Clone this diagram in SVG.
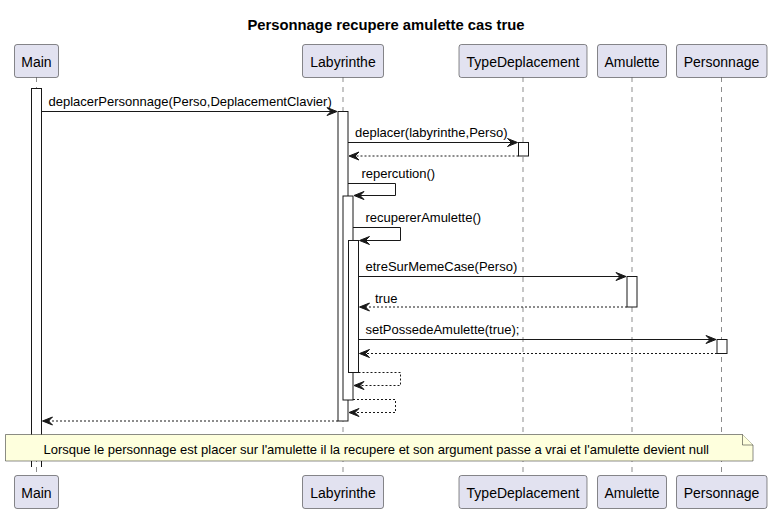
<svg xmlns="http://www.w3.org/2000/svg" width="772" height="513" viewBox="0 0 772 513">
<style>
text{font-family:"Liberation Sans",Arial,sans-serif;fill:#000}
.title{font-size:14.8px;font-weight:bold}
.pt{font-size:14px}
.msg{font-size:13px}
.box{fill:#E2E2F0;stroke:#181818;stroke-width:0.5}
.life{stroke:#181818;stroke-width:0.5;stroke-dasharray:5,5;fill:none}
.act{fill:#FFFFFF;stroke:#181818;stroke-width:1}
.ln{stroke:#181818;stroke-width:1;fill:none}
.dl{stroke:#181818;stroke-width:1;fill:none;stroke-dasharray:2,2}
.ah{fill:#181818;stroke:#181818;stroke-width:1}
.note{fill:#FEFFDD;stroke:#181818;stroke-width:0.5}
</style>
<rect width="772" height="513" fill="#FFFFFF"/>
<text class="title" x="386" y="30" text-anchor="middle">Personnage recupere amulette cas true</text>

<g id="lifelines">
<line class="life" x1="36.5" y1="77" x2="36.5" y2="476"/>
<line class="life" x1="343" y1="77" x2="343" y2="476"/>
<line class="life" x1="523" y1="77" x2="523" y2="476"/>
<line class="life" x1="632" y1="77" x2="632" y2="476"/>
<line class="life" x1="721.5" y1="77" x2="721.5" y2="476"/>
</g>

<g id="activations">
<rect class="act" x="31.5" y="88.5" width="10" height="362"/>
<line class="ln" x1="31.5" y1="450" x2="31.5" y2="467"/>
<line class="ln" x1="41.5" y1="450" x2="41.5" y2="467"/>
<rect class="act" x="338" y="111.5" width="10" height="309.5"/>
<rect class="act" x="343" y="196" width="10" height="204"/>
<rect class="act" x="348.5" y="240.5" width="10" height="132"/>
<rect class="act" x="518.5" y="142.5" width="10" height="13.5"/>
<rect class="act" x="627" y="276.5" width="10" height="30.5"/>
<rect class="act" x="717" y="339.5" width="10" height="14"/>
</g>

<g id="connectors">
<line class="ln" x1="41.5" y1="111.5" x2="336" y2="111.5"/>
<polygon class="ah" points="337,111.5 327,107.5 331,111.5 327,115.5"/>
<text class="msg" x="48.5" y="105.5">deplacerPersonnage(Perso,DeplacementClavier)</text>

<line class="ln" x1="348" y1="142.5" x2="516.5" y2="142.5"/>
<polygon class="ah" points="517.5,142.5 507.5,138.5 511.5,142.5 507.5,146.5"/>
<text class="msg" x="355" y="137">deplacer(labyrinthe,Perso)</text>
<line class="dl" x1="518.5" y1="156" x2="350" y2="156"/>
<polygon class="ah" points="349,156 359,152 355,156 359,160"/>

<polyline class="ln" points="348,183.5 395.5,183.5 395.5,195.5 355,195.5"/>
<polygon class="ah" points="354,195.5 364,191.5 360,195.5 364,199.5"/>
<text class="msg" x="361.5" y="178">repercution()</text>

<polyline class="ln" points="353,227.5 400.5,227.5 400.5,240.5 360.5,240.5"/>
<polygon class="ah" points="359.5,240.5 369.5,236.5 365.5,240.5 369.5,244.5"/>
<text class="msg" x="365.5" y="222">recupererAmulette()</text>

<line class="ln" x1="358.5" y1="276.5" x2="625" y2="276.5"/>
<polygon class="ah" points="626,276.5 616,272.5 620,276.5 616,280.5"/>
<text class="msg" x="365.5" y="271">etreSurMemeCase(Perso)</text>

<line class="dl" x1="627" y1="307" x2="360.5" y2="307"/>
<polygon class="ah" points="359.5,307 369.5,303 365.5,307 369.5,311"/>
<text class="msg" x="375" y="302.5">true</text>

<line class="ln" x1="358.5" y1="339.5" x2="715" y2="339.5"/>
<polygon class="ah" points="716,339.5 706,335.5 710,339.5 706,343.5"/>
<text class="msg" x="365.5" y="334">setPossedeAmulette(true);</text>

<line class="dl" x1="717" y1="353.5" x2="360.5" y2="353.5"/>
<polygon class="ah" points="359.5,353.5 369.5,349.5 365.5,353.5 369.5,357.5"/>

<polyline class="dl" points="358.5,372.5 400.5,372.5 400.5,385.5 355,385.5"/>
<polygon class="ah" points="354,385.5 364,381.5 360,385.5 364,389.5"/>

<polyline class="dl" points="353,399.5 395.5,399.5 395.5,412.5 350,412.5"/>
<polygon class="ah" points="349,412.5 359,408.5 355,412.5 359,416.5"/>

<line class="dl" x1="338" y1="421" x2="43.5" y2="421"/>
<polygon class="ah" points="42.5,421 52.5,417 48.5,421 52.5,425"/>
</g>

<g id="note">
<path class="note" d="M5.5,434.5 L742.5,434.5 L753,445 L753,461 L5.5,461 Z"/>
<path class="note" d="M742.5,434.5 L742.5,445 L753,445" fill="none"/>
<text class="msg" x="43.5" y="453.5">Lorsque le personnage est placer sur l'amulette il la recupere et son argument passe a vrai et l'amulette devient null</text>
</g>

<g id="p-main">
<rect class="box" x="14.5" y="44.5" width="44" height="33" rx="2.5"/>
<text class="pt" x="36.5" y="66.5" text-anchor="middle">Main</text>
<rect class="box" x="14.5" y="475.5" width="44" height="33" rx="2.5"/>
<text class="pt" x="36.5" y="497.5" text-anchor="middle">Main</text>
</g>
<g id="p-labyrinthe">
<rect class="box" x="302.5" y="44.5" width="81" height="33" rx="2.5"/>
<text class="pt" x="343" y="66.5" text-anchor="middle">Labyrinthe</text>
<rect class="box" x="302.5" y="475.5" width="81" height="33" rx="2.5"/>
<text class="pt" x="343" y="497.5" text-anchor="middle">Labyrinthe</text>
</g>
<g id="p-typedeplacement">
<rect class="box" x="459" y="44.5" width="128" height="33" rx="2.5"/>
<text class="pt" x="523" y="66.5" text-anchor="middle">TypeDeplacement</text>
<rect class="box" x="459" y="475.5" width="128" height="33" rx="2.5"/>
<text class="pt" x="523" y="497.5" text-anchor="middle">TypeDeplacement</text>
</g>
<g id="p-amulette">
<rect class="box" x="597.5" y="44.5" width="69" height="33" rx="2.5"/>
<text class="pt" x="632" y="66.5" text-anchor="middle">Amulette</text>
<rect class="box" x="597.5" y="475.5" width="69" height="33" rx="2.5"/>
<text class="pt" x="632" y="497.5" text-anchor="middle">Amulette</text>
</g>
<g id="p-personnage">
<rect class="box" x="676.5" y="44.5" width="90.5" height="33" rx="2.5"/>
<text class="pt" x="721.5" y="66.5" text-anchor="middle">Personnage</text>
<rect class="box" x="676.5" y="475.5" width="90.5" height="33" rx="2.5"/>
<text class="pt" x="721.5" y="497.5" text-anchor="middle">Personnage</text>
</g>
</svg>
